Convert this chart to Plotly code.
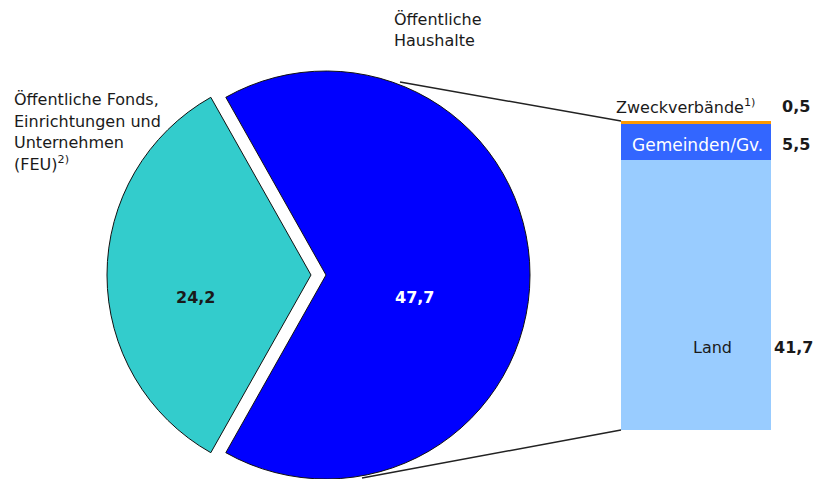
import plotly.graph_objects as go

OX, OY = 8, 8  # page body offset
W, H = 825 - OX, 479 - OY

# ---- data ----
pie_labels = ["Öffentliche Fonds, Einrichtungen und Unternehmen (FEU)", "Öffentliche Haushalte"]
pie_values = [24.2, 47.7]
pie_colors = ["#33CCCC", "#0000FF"]

bar_labels = ["Land", "Gemeinden/Gv.", "Zweckverbände"]
bar_values = [41.7, 5.5, 0.5]
bar_colors = ["#99CCFF", "#3366FF", "#FF9900"]


def fmt(v):
    return f"{v:.1f}".replace(".", ",")


def px_x(x):
    return (x - OX) / W


def px_y(y):
    return 1 - (y - OY) / H


FONT = "DejaVu Sans"
TXT = "#1a1a1a"
R = 204
blue_c = (326, 275)
teal_c = (311, 275)


def pie_domain(c, r):
    cx, cy = c
    return dict(x=[max(0, px_x(cx - r)), min(1, px_x(cx + r))],
                y=[max(0, px_y(cy + r)), min(1, px_y(cy - r))])


share0 = pie_values[0] / sum(pie_values)
rotation = 270 - share0 * 360 / 2

fig = go.Figure()
transparent = "rgba(0,0,0,0)"
for i, centre in [(0, teal_c), (1, blue_c)]:
    cols = [pie_colors[k] if k == i else transparent for k in range(2)]
    lcols = ["#111111" if k == i else transparent for k in range(2)]
    lw = [1 if k == i else 0 for k in range(2)]
    fig.add_trace(go.Pie(
        labels=pie_labels, values=pie_values, sort=False,
        direction="clockwise", rotation=rotation,
        marker=dict(colors=cols, line=dict(color=lcols, width=lw)),
        textinfo="none", hoverinfo="skip", showlegend=False,
        domain=pie_domain(centre, R),
    ))

for lab, val, col in zip(bar_labels, bar_values, bar_colors):
    fig.add_trace(go.Bar(x=[0], y=[val], width=[1], marker=dict(color=col, line=dict(width=0)),
                         name=lab, showlegend=False, hoverinfo="skip"))

total = sum(bar_values)
xdom = [px_x(621), px_x(771)]
ydom = [px_y(430), px_y(121)]


def bar_y(v):
    return ydom[0] + v / total * (ydom[1] - ydom[0])


shapes = [
    dict(type="line", xref="paper", yref="paper", x0=px_x(400), y0=px_y(82),
         x1=xdom[0], y1=bar_y(total), line=dict(color="#222222", width=1.5)),
    dict(type="line", xref="paper", yref="paper", x0=px_x(362), y0=px_y(478),
         x1=xdom[0], y1=bar_y(0), line=dict(color="#222222", width=1.5)),
]

ann = []


def add(text, x, y, xanchor="left", color=TXT, bold=False, size=16):
    ann.append(dict(text=f"<b>{text}</b>" if bold else text, x=px_x(x), y=px_y(y),
                    xref="paper", yref="paper", xanchor=xanchor, yanchor="middle",
                    showarrow=False, font=dict(family=FONT, size=size, color=color)))


# pie captions
add("Öffentliche", 392, 20)
add("Haushalte", 392, 41)
for t, y in zip(["Öffentliche Fonds,", "Einrichtungen und", "Unternehmen",
                 "(FEU)<sup>2)</sup>"], [100, 122, 143, 164]):
    add(t, 12, y)

# pie values
add(fmt(pie_values[0]), 195, 297, xanchor="center", bold=True)
add(fmt(pie_values[1]), 414, 297, xanchor="center", bold=True, color="white")

# bar labels
add(bar_labels[2] + "<sup>1)</sup>", 614, 107)
add(bar_labels[1], 697, 145, xanchor="center", color="white", size=17)
add(bar_labels[0], 712, 347, xanchor="center")
add(fmt(bar_values[2]), 780, 107, bold=True)
add(fmt(bar_values[1]), 780, 145, bold=True)
add(fmt(bar_values[0]), 815, 347, xanchor="right", bold=True)

fig.update_layout(
    width=W, height=H, margin=dict(l=0, r=0, t=0, b=0),
    paper_bgcolor="white", plot_bgcolor="rgba(0,0,0,0)",
    barmode="stack", bargap=0,
    xaxis=dict(domain=xdom, range=[-0.5, 0.5], visible=False, fixedrange=True),
    yaxis=dict(domain=ydom, range=[0, total], visible=False, fixedrange=True),
    shapes=shapes, annotations=ann,
)

fig.write_html("out.html")
